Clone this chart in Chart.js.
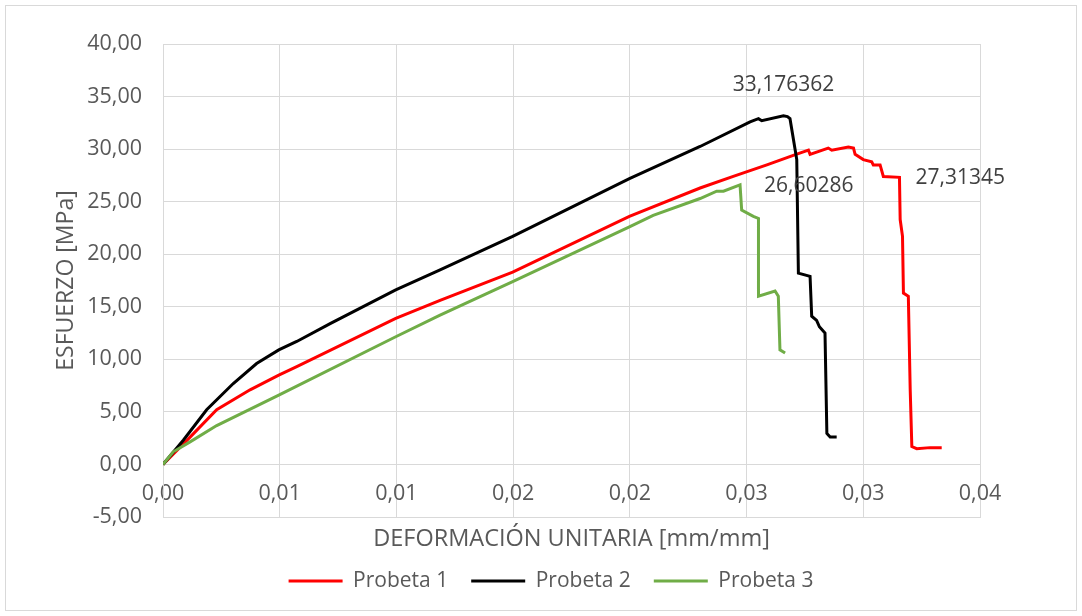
<!DOCTYPE html>
<html>
<head>
<meta charset="utf-8">
<script src="https://cdn.jsdelivr.net/npm/chart.js@4.4.1/dist/chart.umd.min.js"></script>
<style>
  html, body { margin: 0; padding: 0; background: #fff; }
  #wrap { position: relative; width: 1082px; height: 616px; }
</style>
</head>
<body>
<div id="wrap"><canvas id="chart"></canvas></div>
<script>
// strain [mm/mm] and stress [MPa]
const p1Strain = [0, 0.00116, 0.0023, 0.00373, 0.00496, 0.00573, 0.00997, 0.01187, 0.01498, 0.01998,
  0.02301, 0.02443, 0.02587, 0.027, 0.02765, 0.02772, 0.0285, 0.02865, 0.02936, 0.02958,
  0.02965, 0.03, 0.03036, 0.03043, 0.03072, 0.03086, 0.03155, 0.03158, 0.03168, 0.03172,
  0.03193, 0.03201, 0.03208, 0.03229, 0.03286, 0.03336];
const p1Stress = [0, 2.6, 5.2, 7.1, 8.5, 9.3, 13.9, 15.6, 18.3, 23.6,
  26.3, 27.4, 28.5, 29.4, 29.9, 29.5, 30.1, 29.9, 30.2, 30.1,
  29.5, 29.0, 28.8, 28.5, 28.5, 27.4, 27.31345, 23.3, 21.7, 16.3,
  16.0, 7.1, 1.7, 1.5, 1.6, 1.6];

const p2Strain = [0, 0.00087, 0.00187, 0.00301, 0.00401, 0.00496, 0.00573, 0.00716, 0.00997, 0.01187,
  0.01498, 0.01998, 0.02301, 0.02515, 0.02551, 0.02565, 0.02658, 0.02675, 0.02686, 0.02701,
  0.02715, 0.02722, 0.02772, 0.02779, 0.028, 0.02812, 0.02836, 0.02844, 0.02858, 0.02886];
const p2Stress = [0, 2.3, 5.2, 7.7, 9.6, 10.9, 11.7, 13.4, 16.6, 18.5,
  21.7, 27.2, 30.25, 32.6, 32.9, 32.7, 33.176362, 33.1, 32.9, 30.9,
  29.0, 18.2, 17.9, 14.1, 13.7, 13.1, 12.5, 2.95, 2.6, 2.6];

const p3Strain = [0, 0.00044, 0.00116, 0.0023, 0.00496, 0.00997, 0.01187, 0.01498, 0.01998, 0.021,
  0.02301, 0.02372, 0.02401, 0.02472, 0.02479, 0.02529, 0.02551, 0.02551, 0.02622, 0.02636,
  0.02643, 0.02665];
const p3Stress = [0, 1.2, 2.15, 3.7, 6.6, 12.15, 14.2, 17.4, 22.6, 23.7,
  25.3, 26.0, 26.0, 26.60286, 24.2, 23.6, 23.4, 16.0, 16.5, 16.0,
  10.9, 10.6];

const seriesNames = ['Probeta 1', 'Probeta 2', 'Probeta 3'];
const seriesColors = ['#FF0000', '#000000', '#70AD47'];

const xTicks = [0, 0.035, 0.005];   // min, max, step
const yTicks = [-5, 40, 5];

function pts(xs, ys) {
  return xs.map((x, i) => ({x: x, y: ys[i]}));
}

const comma = v => String(v).replace('.', ',');

// which points carry a value label
const pointLabels = [
  {ds: 0, idx: 26, pos: 'right', dx: 16, dy: 1},
  {ds: 1, idx: 16, pos: 'above', dx: 0, dy: -20},
  {ds: 2, idx: 13, pos: 'right', dx: 24, dy: 1}
];

const frame = {
  id: 'frame',
  beforeDraw(chart) {
    const c = chart.ctx;
    c.save();
    c.fillStyle = '#fff';
    c.fillRect(0, 0, chart.width, chart.height);
    c.strokeStyle = '#D9D9D9';
    c.lineWidth = 1;
    c.strokeRect(5.5, 5.5, 1071, 605);
    c.restore();
  }
};

const valueLabels = {
  id: 'valueLabels',
  afterDatasetsDraw(chart) {
    const c = chart.ctx;
    c.save();
    c.font = '21px "Open Sans"';
    c.fillStyle = '#404040';
    pointLabels.forEach(l => {
      const el = chart.getDatasetMeta(l.ds).data[l.idx];
      const v = chart.data.datasets[l.ds].data[l.idx].y;
      if (l.pos === 'above') {
        c.textAlign = 'center';
        c.textBaseline = 'bottom';
      } else {
        c.textAlign = 'left';
        c.textBaseline = 'middle';
      }
      c.fillText(comma(v), el.x + l.dx, el.y + l.dy);
    });
    c.restore();
  }
};

const lineSets = [[p1Strain, p1Stress], [p2Strain, p2Stress], [p3Strain, p3Stress]];

new Chart(document.getElementById('chart'), {
  type: 'line',
  data: {
    datasets: lineSets.map((s, i) => ({
      label: seriesNames[i],
      data: pts(s[0], s[1]),
      borderColor: seriesColors[i],
      backgroundColor: seriesColors[i],
      borderWidth: 3,
      pointRadius: 0,
      tension: 0,
      order: 3 - i
    }))
  },
  options: {
    responsive: true,
    maintainAspectRatio: false,
    animation: false,
    devicePixelRatio: 1,
    layout: {padding: {left: 20, top: 44, right: 0, bottom: 14.5}},
    plugins: {
      tooltip: {enabled: false},
      legend: {
        position: 'bottom',
        labels: {
          usePointStyle: true,
          pointStyle: 'line',
          pointStyleWidth: 54,
          font: {family: '"Open Sans"', size: 21},
          color: '#595959',
          padding: 23,
          sort: (a, b) => a.datasetIndex - b.datasetIndex
        }
      }
    },
    scales: {
      x: {
        type: 'linear',
        min: xTicks[0],
        max: xTicks[1],
        afterFit: s => { s.height = 30.5; },
        ticks: {
          stepSize: xTicks[2],
          maxRotation: 0,
          autoSkip: false,
          mirror: true,
          padding: 10,
          font: {family: '"Open Sans"', size: 21.5},
          color: '#595959',
          callback: v => (Math.round(v * 100 + 1e-9) / 100).toFixed(2).replace('.', ',')
        },
        grid: {color: '#D9D9D9', drawTicks: false},
        border: {color: '#D9D9D9'},
        title: {
          display: true,
          text: 'DEFORMACIÓN UNITARIA [mm/mm]',
          font: {family: '"Open Sans"', size: 23.5},
          color: '#595959',
          padding: {top: 0, bottom: -6}
        }
      },
      y: {
        min: yTicks[0],
        max: yTicks[1],
        afterFit: s => { s.width = 143; },
        ticks: {
          stepSize: yTicks[2],
          padding: 21,
          font: {family: '"Open Sans"', size: 21.5},
          color: '#595959',
          callback: v => v.toFixed(2).replace('.', ',')
        },
        grid: {color: '#D9D9D9', drawTicks: false},
        border: {color: '#D9D9D9'},
        title: {
          display: true,
          text: 'ESFUERZO [MPa]',
          font: {family: '"Open Sans"', size: 23},
          color: '#595959',
          padding: {top: 33, bottom: 0}
        }
      },
      // empty right margin so the legend can sit on the full width
      yRight: {
        position: 'right',
        afterFit: s => { s.width = 102; },
        ticks: {display: false},
        grid: {display: false},
        border: {display: false}
      }
    }
  },
  plugins: [frame, valueLabels]
});
</script>
</body>
</html>
